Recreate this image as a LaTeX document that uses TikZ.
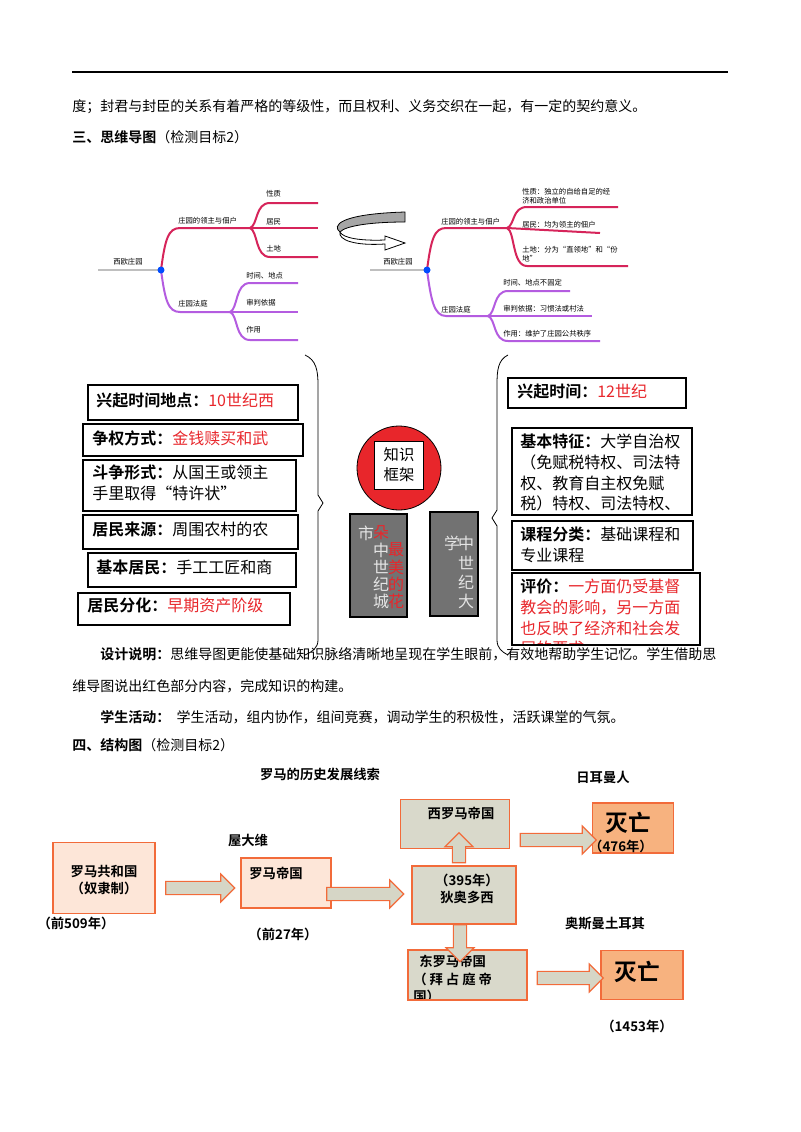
\documentclass[tikz,border=0pt]{standalone}
\usepackage{fontspec}
\setmainfont{Noto Sans CJK SC}[BoldFont={Noto Sans CJK SC Bold}]
\usetikzlibrary{shapes.arrows}
\definecolor{mred}{HTML}{D6245A}
\definecolor{mpur}{HTML}{B45CE0}
\definecolor{orb}{HTML}{F26B3A}
\definecolor{pinkf}{HTML}{FDE6D8}
\definecolor{grayf}{HTML}{D9D9CB}
\definecolor{ornf}{HTML}{F7B27F}
\definecolor{arrf}{HTML}{D6D6C6}
\definecolor{tred}{HTML}{E8262B}
\definecolor{dgr}{HTML}{727272}
\tikzset{
 body/.style={anchor=west,inner sep=0,font=\fontsize{10.5}{12}\selectfont},
 mm/.style={anchor=west,inner sep=0,font=\fontsize{5.5}{7}\selectfont,align=left},
 bx/.style={draw,line width=0.9pt},
 bxt/.style={anchor=north west,inner sep=0,font=\fontsize{12}{15.5}\selectfont,align=left},
 redline/.style={mred,line width=1.5pt},
 purline/.style={mpur,line width=1.5pt},
 rbox/.style={draw=orb,line width=1.2pt,fill=pinkf},
 gbox/.style={draw=orb,line width=1.2pt,fill=grayf},
 obox/.style={draw=orb,line width=1.2pt,fill=ornf},
 fat/.style={single arrow,draw=orb,fill=arrf,line width=0.9pt,minimum height=#1,single arrow head extend=5.5pt,minimum width=21pt,inner sep=4.5pt},
 bt/.style={inner sep=0,font=\bfseries\fontsize{10}{13}\selectfont,align=center},
 vt/.style={inner sep=0,font=\fontsize{12}{12}\selectfont},
}
\begin{document}
\begin{tikzpicture}[x=0.75pt,y=-0.75pt]
\useasboundingbox[fill=white] (0,0) rectangle (800,1132);
\draw[line width=1pt] (72,72) -- (728,72);
\node[body] (l1) at (72,107) {度；封君与封臣的关系有着严格的等级性，而且权利、义务交织在一起，有一定的契约意义。};
\node[body] (h3) at (72,137) {\textbf{三、思维导图}（检测目标2）};
% left mind map
\coordinate (d1) at (161,270);
\draw[gray!50,line width=1.5pt] (98,270) -- (d1);
\node[mm] at (113,262) {西欧庄园};
\draw[redline] (d1) .. controls (165,240) and (168,228) .. (180,228) -- (250,228);
\draw[redline] (250,228) .. controls (258,225) and (255,203) .. (270,203) -- (318,203);
\draw[redline] (250,228) -- (318,228);
\draw[redline] (250,228) .. controls (258,231) and (255,257) .. (270,257) -- (318,257);
\draw[purline] (d1) .. controls (165,300) and (168,312) .. (180,312) -- (230,312);
\draw[purline] (230,312) .. controls (238,309) and (235,283) .. (250,283) -- (298,283);
\draw[purline] (230,312) -- (298,312);
\draw[purline] (230,312) .. controls (238,315) and (235,340) .. (250,340) -- (298,340);
\fill[blue!70!cyan] (d1) circle (3.5);
\node[mm] at (178,221) {庄园的领主与佃户};
\node[mm] at (266,194) {性质};
\node[mm] at (266,222) {居民};
\node[mm] at (266,249) {土地};
\node[mm] at (178,304) {庄园法庭};
\node[mm] at (246,276) {时间、地点};
\node[mm] at (246,303) {审判依据};
\node[mm] at (246,330) {作用};
% curved arrow
\fill[gray!70,draw=black,line width=0.6pt] (405,212) -- (405,222) .. controls (370,222) and (345,226) .. (340,232) .. controls (332,226) and (338,214) .. (405,212) -- cycle;
\draw[fill=white,line width=0.6pt] (340,232) .. controls (338,240) and (355,246) .. (385,244) -- (385,250) -- (405,243) -- (385,236) -- (385,240) .. controls (360,241) and (343,238) .. (340,232);
% right mind map
\coordinate (d2) at (427,270);
\draw[gray!50,line width=1.5pt] (370,270) -- (d2);
\node[mm] at (383,262) {西欧庄园};
\draw[redline] (d2) .. controls (431,240) and (434,228) .. (446,228) -- (507,228);
\draw[redline] (507,228) .. controls (515,225) and (512,207) .. (527,207) -- (618,207);
\draw[redline] (507,228) -- (600,233);
\draw[redline] (507,228) .. controls (515,231) and (512,266) .. (527,266) -- (628,266);
\draw[purline] (d2) .. controls (431,300) and (434,316) .. (446,316) -- (488,316);
\draw[purline] (488,316) .. controls (496,313) and (493,291) .. (508,291) -- (570,291);
\draw[purline] (488,316) -- (592,316);
\draw[purline] (488,316) .. controls (496,319) and (493,341) .. (508,341) -- (600,341);
\fill[blue!70!cyan] (d2) circle (3.5);
\node[mm] at (441,222) {庄园的领主与佃户};
\node[mm] at (522,196) {性质：独立的自给自足的经\\济和政治单位};
\node[mm] at (522,225) {居民：均为领主的佃户};
\node[mm] at (522,254) {土地：分为“直领地”和“份\\地”};
\node[mm] at (441,310) {庄园法庭};
\node[mm] at (503,283) {时间、地点不固定};
\node[mm] at (503,309) {审判依据：习惯法或村法};
\node[mm] at (503,334) {作用：维护了庄园公共秩序};
% braces
\draw[line width=0.6pt] (305,355) .. controls (316,360) and (318,370) .. (318,385) -- (318,495) -- (323,503) -- (318,511) -- (318,640) .. controls (318,648) and (312,652) .. (305,655);
\draw[line width=0.6pt] (508,355) .. controls (498,360) and (497,370) .. (497,385) -- (497,510) -- (492,518) -- (497,526) -- (497,640) .. controls (497,648) and (502,652) .. (508,655);
% left boxes
\draw[bx] (88,385) rectangle (298,420);
\node[bxt] at (96,393) {\textbf{兴起时间地点：}\textcolor{tred}{10世纪西}};
\draw[bx] (83,424) rectangle (303,456);
\node[bxt] at (92,430) {\textbf{争权方式：}\textcolor{tred}{金钱赎买和武}};
\draw[bx] (83,460) rectangle (296,511);
\node[bxt] at (92,465) {\textbf{斗争形式：}从国王或领主\\手里取得“特许状”};
\draw[bx] (83,515) rectangle (298,549);
\node[bxt] at (92,522) {\textbf{居民来源：}周围农村的农};
\draw[bx] (88,553) rectangle (296,587);
\node[bxt] at (96,560) {\textbf{基本居民：}手工工匠和商};
\draw[bx] (78,593) rectangle (290,625);
\node[bxt] at (87,598) {\textbf{居民分化：}\textcolor{tred}{早期资产阶级}};
% centre
\fill[tred,draw=black,line width=0.6pt] (399,468) circle (42);
\draw[fill=white,line width=0.6pt] (374,441) rectangle (423,489);
\node[inner sep=0,font=\fontsize{11.5}{15}\selectfont,align=center] at (399,465) {知识\\框架};
\draw[fill=dgr,draw=black,line width=0.9pt] (350,514) rectangle (407,617);
\draw[fill=dgr,draw=black,line width=0.9pt] (430,512) rectangle (478,616);
\foreach \t/\x/\y/\c in {市/366/533/gray!20,朵/381/533/tred,中/381/550/gray!20,世/381/567/gray!20,纪/381/584/gray!20,城/381/601/gray!20,最/396/550/tred,美/396/567/tred,的/396/584/tred,花/396/601/tred,学/452/543/gray!20,中/466/543/gray!20,世/466/563/gray!20,纪/466/582/gray!20,大/466/601/gray!20}
 \node[vt,text=\c] at (\x,\y) {\t};
% right boxes
\draw[bx] (508,378) rectangle (686,408);
\node[bxt] at (517,384) {\textbf{兴起时间：}\textcolor{tred}{12世纪}};
\begin{scope}
\clip (512,428) rectangle (692,515);
\node[bxt] at (520,434) {\textbf{基本特征：}大学自治权\\（免赋税特权、司法特\\权、教育自主权免赋\\税）特权、司法特权、\\教育自主权};
\end{scope}
\draw[bx] (512,428) rectangle (692,515);
\draw[bx] (512,521) rectangle (693,570);
\node[bxt] at (520,527) {\textbf{课程分类：}基础课程和\\专业课程};
\begin{scope}
\clip (512,573) rectangle (700,645);
\node[bxt] at (520,579) {\textbf{评价：}\textcolor{tred}{一方面仍受基督}\\\textcolor{tred}{教会的影响，另一方面}\\\textcolor{tred}{也反映了经济和社会发}\\\textcolor{tred}{展的要求}};
\end{scope}
\draw[bx] (512,573) rectangle (700,645);
% paragraphs
\node[body] at (100,654) {\textbf{设计说明：}思维导图更能使基础知识脉络清晰地呈现在学生眼前，有效地帮助学生记忆。学生借助思};
\node[body] at (72,686) {维导图说出红色部分内容，完成知识的构建。};
\node[body] at (100,717) {\textbf{学生活动：}\ \ 学生活动，组内协作，组间竞赛，调动学生的积极性，活跃课堂的气氛。};
\node[body] at (72,745) {\textbf{四、结构图}（检测目标2）};
% structure diagram
\node[bt] at (320,774) {罗马的历史发展线索};
\node[bt] at (603,777) {日耳曼人};
\node[bt] at (248,840) {屋大维};
\node[bt] at (605,924) {奥斯曼土耳其};
\node[rbox,minimum width=102*0.75pt,minimum height=71*0.75pt,inner sep=0] (rep) at (104,878) {};
\node[bt] at (104,880) {罗马共和国\\（奴隶制）};
\node[bt] at (76,923) {（前509年）};
\node[rbox,minimum width=90*0.75pt,minimum height=50*0.75pt,inner sep=0] (emp) at (286,883) {};
\node[bt] at (276,873) {罗马帝国};
\node[bt] at (283,934) {（前27年）};
\node[gbox,minimum width=104*0.75pt,minimum height=58*0.75pt,inner sep=0] (the) at (464,895) {};
\node[bt] at (467,889) {（395年）\\狄奥多西};
\node[gbox,minimum width=109*0.75pt,minimum height=49*0.75pt,inner sep=0] (west) at (455,824) {};
\node[bt] at (461,813) {西罗马帝国};
\node[gbox,minimum width=119*0.75pt,minimum height=50*0.75pt,inner sep=0] (east) at (467,975) {};
\begin{scope}
\clip (408,950) rectangle (527,1000);
\node[bt,align=left,anchor=north west] at (413,955) {\ \ 东罗马帝国\\（\ 拜\ 占\ 庭\ 帝\\国）};
\end{scope}
\draw[orb,line width=1.2pt] (408,950) rectangle (527,1000);
\node[obox,minimum width=81*0.75pt,minimum height=50*0.75pt,inner sep=0] (f1) at (633,828) {};
\node[inner sep=0,font=\bfseries\fontsize{17}{17}\selectfont] at (628,823) {灭亡};
\node[bt] at (621,846) {（476年）};
\node[obox,minimum width=82*0.75pt,minimum height=49*0.75pt,inner sep=0] (f2) at (642,975) {};
\node[inner sep=0,font=\bfseries\fontsize{17}{17}\selectfont] at (637,972) {灭亡};
\node[bt] at (637,1026) {（1453年）};
\node[fat=69*0.75pt] (a1) at (197,888) {};
\node[fat=77*0.75pt] (a2) at (362,894) {};
\node[fat=76*0.75pt] (a3) at (555,840) {};
\node[fat=66*0.75pt] (a4) at (567,978) {};
\node[fat=30*0.75pt,rotate=90] (a5) at (459,851) {};
\node[fat=37*0.75pt,rotate=-90] (a6) at (460,940) {};
\end{tikzpicture}
\end{document}
